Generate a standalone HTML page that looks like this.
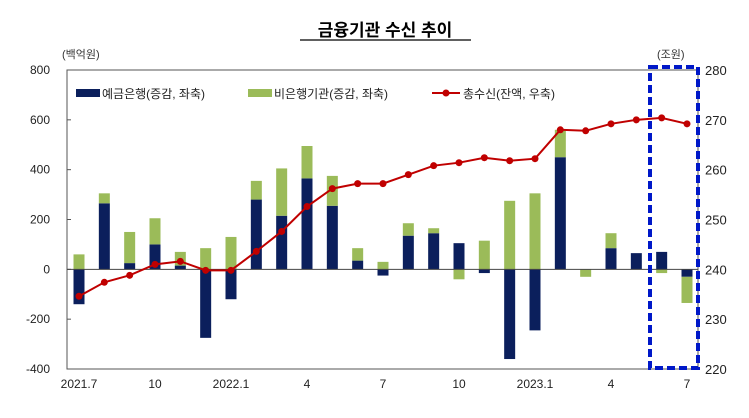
<!DOCTYPE html>
<html><head><meta charset="utf-8"><style>
body{margin:0;background:#fff;}
svg{display:block;font-family:"Liberation Sans","Noto Sans CJK KR",sans-serif;}
</style></head><body>
<svg id="c" width="749" height="418" viewBox="0 0 749 418">
<text x="385" y="36" text-anchor="middle" font-size="17" font-weight="bold" fill="#000">금융기관 수신 추이</text>
<line x1="300" y1="40" x2="471" y2="40" stroke="#000" stroke-width="1.2"/>
<text x="62" y="58" font-size="11" fill="#333">(백억원)</text>
<text x="657" y="58" font-size="11" fill="#333">(조원)</text>
<g id="g"></g>
</svg>
<script>
const months=["2021.7","8","9","10","11","12","2022.1","2","3","4","5","6","7","8","9","10","11","12","2023.1","2","3","4","5","6","7"];
const tickLabels=["2021.7","","","10","","","2022.1","","","4","","","7","","","10","","","2023.1","","","4","","","7"];
const depositBanks=[-140,265,25,100,15,-275,-120,280,215,365,255,35,-25,135,145,105,-15,-360,-245,450,0,85,65,70,-30];
const nonBanks=[60,40,125,105,55,85,130,75,190,130,120,50,30,50,20,-40,115,275,305,110,-30,60,0,-15,-105];
const totalDeposits=[234.6,237.4,238.8,241,241.6,239.8,239.8,243.6,247.6,252.6,256.2,257.2,257.2,259,260.8,261.4,262.4,261.8,262.2,268,267.8,269.2,270,270.4,269.2];
const leftTicks=[800,600,400,200,0,-200,-400];
const rightTicks=[280,270,260,250,240,230,220];
const NS="http://www.w3.org/2000/svg",g=document.getElementById('g');
const X0=67,X1=698,Y0=70,Y1=369;
const yL=v=>Y0+(800-v)/1200*(Y1-Y0);
const yR=v=>Y0+(280-v)/60*(Y1-Y0);
const xC=i=>79+i*(687-79)/(months.length-1);
function el(t,a,p){const e=document.createElementNS(NS,t);for(const k in a)e.setAttribute(k,a[k]);(p||g).appendChild(e);return e;}
let e=el('rect',{x:X0,y:Y0,width:X1-X0,height:Y1-Y0,fill:'none',stroke:'#555','stroke-width':1});


leftTicks.forEach(v=>{const t=el('text',{x:50,y:yL(v)+4,'text-anchor':'end','font-size':12,fill:'#222'});t.textContent=v;


el('line',{x1:X0,x2:X0+4,y1:yL(v),y2:yL(v),stroke:'#555'});});
rightTicks.forEach(v=>{const t=el('text',{x:705,y:yR(v)+5,'font-size':13,fill:'#222'});t.textContent=v;

});
tickLabels.forEach((s,i)=>{if(!s)return;const t=el('text',{x:xC(i),y:388,'text-anchor':'middle','font-size':12,fill:'#222'});t.textContent=s;

});
const bw=11;
months.forEach((m,i)=>{let pos=0,neg=0;
[[depositBanks[i],'#0b1f5c','deposit-bank-bar'],[nonBanks[i],'#9bbb59','nonbank-bar']].forEach(([v,c,n])=>{
let a,b;if(v>=0){a=pos;b=pos+v;pos=b;}else{a=neg;b=neg+v;neg=b;}
const r=el('rect',{x:xC(i)-bw/2,y:Math.min(yL(a),yL(b)),width:bw,height:Math.abs(yL(a)-yL(b)),fill:c});

});});
const z=el('line',{x1:X0,x2:X1,y1:yL(0),y2:yL(0),stroke:'#444','stroke-width':1});


const ln=el('polyline',{points:totalDeposits.map((v,i)=>xC(i)+','+yR(v)).join(' '),fill:'none',stroke:'#c00000','stroke-width':2});


totalDeposits.forEach((v,i)=>{const p=el('circle',{cx:xC(i),cy:yR(v),r:3.5,fill:'#c00000'});

});
// legend
const L=[[76,'#0b1f5c','rect','예금은행(증감, 좌축)'],[248,'#9bbb59','rect','비은행기관(증감, 좌축)'],[432,'#c00000','line','총수신(잔액, 우축)']];
L.forEach(([x,c,t,s])=>{const lg=el('g',{});


if(t==='rect')el('rect',{x:x,y:89,width:24,height:8,fill:c},lg);
else{el('line',{x1:x,x2:x+28,y1:93,y2:93,stroke:c,'stroke-width':2},lg);el('circle',{cx:x+14,cy:93,r:3.5,fill:c},lg);}
const tx=el('text',{x:x+(t==='rect'?26:31),y:98,'font-size':12,fill:'#222'},lg);tx.textContent=s;});
const bx=el('rect',{x:650,y:67,width:48,height:301,fill:'none',stroke:'#0018c8','stroke-width':4,'stroke-dasharray':'8,4'});


</script>
</body></html>
